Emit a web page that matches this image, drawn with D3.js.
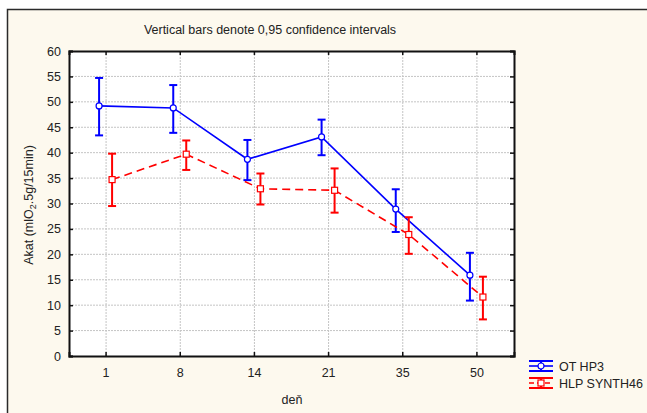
<!DOCTYPE html>
<html>
<head>
<meta charset="utf-8">
<script src="https://cdn.jsdelivr.net/npm/d3@7"></script>
<style>
  body { margin: 0; background: #fff; }
  svg { display: block; font-family: "Liberation Sans", Arial, sans-serif; }
</style>
</head>
<body>
<div id="chart"></div>
<script>
// data
const days = ["1", "8", "14", "21", "35", "50"];
const yTicks = [0, 5, 10, 15, 20, 25, 30, 35, 40, 45, 50, 55, 60];

const otMean = [49.2, 48.8, 38.7, 43.1, 28.9, 15.9];
const otLow  = [43.4, 43.9, 34.6, 39.5, 24.4, 10.9];
const otHigh = [54.7, 53.3, 42.5, 46.5, 32.8, 20.3];

const hlpMean = [34.7, 39.7, 32.9, 32.6, 23.9, 11.6];
const hlpLow  = [29.5, 36.6, 29.8, 28.2, 20.1, 7.2];
const hlpHigh = [39.8, 42.4, 35.9, 36.9, 27.3, 15.6];

const seriesNames = ["OT HP3", "HLP SYNTH46"];

var W = 647, H = 413;
var margin = { left: 69, top: 51, right: 133, bottom: 57 };
var width = W - margin.left - margin.right,
    height = H - margin.top - margin.bottom;
var fs = 12.5;

var svg = d3.select("#chart").append("svg")
    .attr("width", W).attr("height", H);

// outer frame
svg.append("rect")
    .attr("x", 7.5).attr("y", 9.5)
    .attr("width", W).attr("height", H)
    .attr("fill", "#fdf9ee")
    .attr("stroke", "#2a2a2a").attr("stroke-width", 1.5);

var g = svg.append("g")
    .attr("transform", "translate(" + margin.left + "," + margin.top + ")");

g.append("rect").attr("width", width).attr("height", height).attr("fill", "#fff");

var x = d3.scaleBand().domain(days).range([0, width]);
var y = d3.scaleLinear().domain([0, 60]).range([height, 0]);
var cx = d => x(d) + x.bandwidth() / 2;

// grid
g.selectAll(".hgrid").data(yTicks.slice(1, -1)).enter().append("line")
    .attr("x1", 0).attr("x2", width)
    .attr("y1", d => y(d)).attr("y2", d => y(d))
    .attr("stroke", "#c4c4c4").attr("stroke-dasharray", "2,1");
g.selectAll(".vgrid").data(days).enter().append("line")
    .attr("x1", d => cx(d)).attr("x2", d => cx(d))
    .attr("y1", 0).attr("y2", height)
    .attr("stroke", "#c4c4c4").attr("stroke-dasharray", "2,1");

// axes (ticks inside)
var axL = g.append("g").call(d3.axisLeft(y).tickValues(yTicks).tickSize(-4).tickPadding(8));
var axR = g.append("g").attr("transform", "translate(" + width + ",0)")
    .call(d3.axisRight(y).tickValues(yTicks).tickSize(-4).tickFormat(""));
var axB = g.append("g").attr("transform", "translate(0," + height + ")")
    .call(d3.axisBottom(x).tickSize(-4).tickPadding(12));
var axT = g.append("g").call(d3.axisTop(x).tickSize(-4).tickFormat(""));

[axL, axR, axB, axT].forEach(a => {
    a.select(".domain").attr("stroke", "#111").attr("stroke-width", 2);
    a.selectAll(".tick line").attr("stroke", "#111").attr("stroke-width", 1.5);
    a.selectAll("text").attr("font-size", fs).attr("fill", "#222")
        .attr("font-family", "Liberation Sans, Arial, sans-serif");
});

function drawSeries(mean, low, high, color, dx, dash, marker) {
    var pts = days.map((d, i) => ({ d: d, m: mean[i], lo: low[i], hi: high[i] }));
    var line = d3.line().x(p => cx(p.d) + dx).y(p => y(p.m));
    g.append("path").datum(pts).attr("d", line)
        .attr("fill", "none").attr("stroke", color).attr("stroke-width", 1.6)
        .attr("stroke-dasharray", dash);

    var eb = g.selectAll(null).data(pts).enter().append("g");
    eb.append("line")
        .attr("x1", p => cx(p.d) + dx).attr("x2", p => cx(p.d) + dx)
        .attr("y1", p => y(p.lo)).attr("y2", p => y(p.hi))
        .attr("stroke", color).attr("stroke-width", 2);
    ["lo", "hi"].forEach(k => {
        eb.append("line")
            .attr("x1", p => cx(p.d) + dx - 4).attr("x2", p => cx(p.d) + dx + 4)
            .attr("y1", p => y(p[k])).attr("y2", p => y(p[k]))
            .attr("stroke", color).attr("stroke-width", 2);
    });

    if (marker == "circle") {
        g.selectAll(null).data(pts).enter().append("circle")
            .attr("cx", p => cx(p.d) + dx).attr("cy", p => y(p.m)).attr("r", 3)
            .attr("fill", "#fff").attr("stroke", color).attr("stroke-width", 1.2);
    } else {
        g.selectAll(null).data(pts).enter().append("rect")
            .attr("x", p => cx(p.d) + dx - 3).attr("y", p => y(p.m) - 3)
            .attr("width", 6).attr("height", 6)
            .attr("fill", "#fff").attr("stroke", color).attr("stroke-width", 1.2);
    }
}

drawSeries(otMean, otLow, otHigh, "#0000ff", -7, null, "circle");
drawSeries(hlpMean, hlpLow, hlpHigh, "#ff0000", 6, "8,5", "square");

// title and axis labels
svg.append("text").attr("x", 270).attr("y", 34).attr("text-anchor", "middle")
    .attr("font-size", fs).attr("fill", "#222")
    .text("Vertical bars denote 0,95 confidence intervals");

svg.append("text").attr("x", 292).attr("y", 404).attr("text-anchor", "middle")
    .attr("font-size", fs).attr("fill", "#222").text("deň");

var yl = svg.append("text")
    .attr("transform", "translate(33,205) rotate(-90)")
    .attr("text-anchor", "middle").attr("font-size", fs).attr("fill", "#222");
yl.append("tspan").text("Akat (mlO");
yl.append("tspan").attr("font-size", 9).attr("dy", 3).text("2");
yl.append("tspan").attr("dy", -3).text(".5g/15min)");

// legend
var colors = ["#0000ff", "#ff0000"];
var leg = svg.selectAll(".leg").data(seriesNames).enter().append("g")
    .attr("transform", (d, i) => "translate(529," + (366 + i * 17) + ")");
leg.each(function (d, i) {
    var s = d3.select(this), c = colors[i];
    s.append("line").attr("x1", 0).attr("x2", 24).attr("y1", -5).attr("y2", -5)
        .attr("stroke", c).attr("stroke-width", 2);
    s.append("line").attr("x1", 0).attr("x2", 24).attr("y1", 5).attr("y2", 5)
        .attr("stroke", c).attr("stroke-width", 2);
    s.append("line").attr("x1", 12).attr("x2", 12).attr("y1", -5).attr("y2", 5)
        .attr("stroke", c).attr("stroke-width", 2);
    s.append("line").attr("x1", 0).attr("x2", 24).attr("y1", 0).attr("y2", 0)
        .attr("stroke", c).attr("stroke-width", 1.6)
        .attr("stroke-dasharray", i ? "5,3" : null);
    if (i == 0) {
        s.append("circle").attr("cx", 12).attr("cy", 0).attr("r", 3)
            .attr("fill", "#fff").attr("stroke", c).attr("stroke-width", 1.2);
    } else {
        s.append("rect").attr("x", 9).attr("y", -3).attr("width", 6).attr("height", 6)
            .attr("fill", "#fff").attr("stroke", c).attr("stroke-width", 1.2);
    }
    s.append("text").attr("x", 30).attr("y", 4.5).attr("font-size", fs)
        .attr("fill", "#222").text(d);
});
</script>
</body>
</html>
